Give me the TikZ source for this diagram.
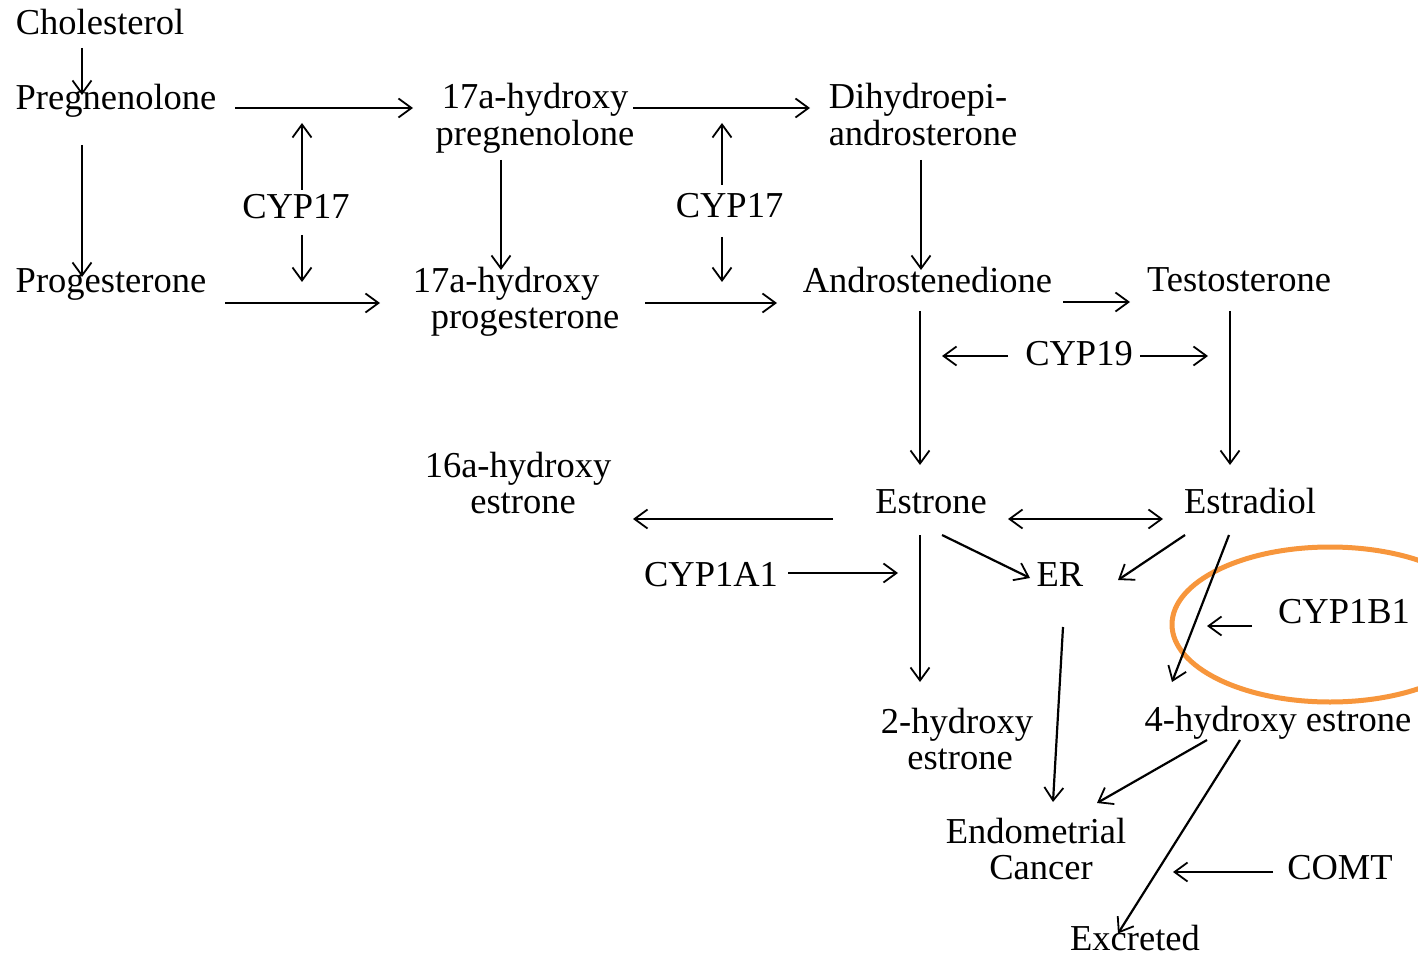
\documentclass[tikz,border=0pt]{standalone}
\usepackage{fontspec}
\setmainfont{Liberation Serif}
\usetikzlibrary{arrows.meta}
\definecolor{hl}{HTML}{F7963C}
\begin{document}
\begin{tikzpicture}[x=1pt,y=-1pt,
  lbl/.style={inner sep=0pt, align=center, font=\fontsize{36.5}{36}\selectfont},
  arr/.style={line width=2.2pt, -{Straight Barb[length=13pt,width=19pt,line width=1.8pt]}},
  arrs/.style={line width=2.2pt, {Straight Barb[length=13pt,width=19pt,line width=1.8pt]}-{Straight Barb[length=13pt,width=19pt,line width=1.8pt]}},
  ring/.style={draw=hl, line width=5pt}]
\useasboundingbox (0,0) rectangle (1418,957);
% nodes
\node[lbl] (chol) at (100,26.8) {\strut Cholesterol};
\node[lbl] (preg) at (116,101.8) {\strut Pregnenolone};
\node[lbl] (prog) at (111,285.8) {\strut Progesterone};
\node[lbl] (h17p) at (535,119.8) {\strut 17a-hydroxy\\\strut pregnenolone};
\node[lbl, align=left] (dhea) at (923,119.8) {\strut Dihydroepi-\\\strut androsterone};
\node[lbl] (h17g) at (516,302.8) {\strut 17a-hydroxy\hspace*{20pt}\\\strut\hspace*{18pt}progesterone};
\node[lbl] (andro) at (927.5,284.8) {\strut Androstenedione};
\node[lbl] (testo) at (1239,284.8) {\strut Testosterone};
\node[lbl] (cypa) at (296,211.8) {\strut CYP17};
\node[lbl] (cypb) at (729.5,210.8) {\strut CYP17};
\node[lbl] (cyp19) at (1079,358.8) {\strut CYP19};
\node[lbl] (h16) at (518,487.8) {\strut 16a-hydroxy\\\strut\hspace*{10pt}estrone};
\node[lbl] (estrone) at (931,505.8) {\strut Estrone};
\node[lbl] (estradiol) at (1250,505.8) {\strut Estradiol};
\node[lbl] (cyp1a1) at (711,578.8) {\strut CYP1A1};
\node[lbl] (er) at (1060,578.8) {\strut ER};
\node[lbl] (cyp1b1) at (1344,615.8) {\strut CYP1B1};
\node[lbl] (h2) at (957,743.8) {\strut 2-hydroxy\\\strut\hspace*{6pt}estrone};
\node[lbl] (h4) at (1278,723.8) {\strut 4-hydroxy estrone};
\node[lbl] (endo) at (1036,853.8) {\strut Endometrial\\\strut\hspace*{10pt}Cancer};
\node[lbl] (comt) at (1340,871.8) {\strut COMT};
\node[lbl, anchor=base] (excr) at (1135,950) {Excreted};
% highlight ring
\draw[ring] (1330,624.5) ellipse [x radius=158, y radius=77.5];
% connectors
\draw[arr] ([shift={(-18,21.2)}]chol.center) -- ([shift={(-34,-6.8)}]preg.center);
\draw[arr] ([shift={(119,6.2)}]preg.center) -- ([shift={(-122,-11.8)}]h17p.center);
\draw[arr] ([shift={(6,-21.8)}]cypa.center) -- ([shift={(6,-88.8)}]cypa.center);
\draw[arr] ([shift={(6,23.2)}]cypa.center) -- ([shift={(6,70.2)}]cypa.center);
\draw[arr] ([shift={(-34,43.2)}]preg.center) -- ([shift={(-29,-8.8)}]prog.center);
\draw[arr] ([shift={(114,17.2)}]prog.center) -- ([shift={(-136,0.2)}]h17g.center);
\draw[arr] ([shift={(-34,40.2)}]h17p.center) -- ([shift={(-15,-32.8)}]h17g.center);
\draw[arr] ([shift={(98,-11.8)}]h17p.center) -- ([shift={(-113,-11.8)}]dhea.center);
\draw[arr] ([shift={(-7.5,-25.8)}]cypb.center) -- ([shift={(-7.5,-87.8)}]cypb.center);
\draw[arr] ([shift={(-7.5,26.2)}]cypb.center) -- ([shift={(-7.5,71.2)}]cypb.center);
\draw[arr] ([shift={(129,0.2)}]h17g.center) -- ([shift={(-150.5,18.2)}]andro.center);
\draw[arr] ([shift={(-2,40.2)}]dhea.center) -- ([shift={(-6.5,-14.8)}]andro.center);
\draw[arr] ([shift={(135.5,17.2)}]andro.center) -- ([shift={(-109,17.2)}]testo.center);
\draw[arr] ([shift={(-71,-2.8)}]cyp19.center) -- ([shift={(-137,-2.8)}]cyp19.center);
\draw[arr] ([shift={(61,-2.8)}]cyp19.center) -- ([shift={(129,-2.8)}]cyp19.center);
\draw[arr] ([shift={(-7.5,26.2)}]andro.center) -- ([shift={(-11,-40.8)}]estrone.center);
\draw[arr] ([shift={(-9,26.2)}]testo.center) -- ([shift={(-20,-40.8)}]estradiol.center);
\draw[arr] ([shift={(-98,13.2)}]estrone.center) -- ([shift={(115,31.2)}]h16.center);
\draw[arrs] ([shift={(77,13.2)}]estrone.center) -- ([shift={(-87,13.2)}]estradiol.center);
\draw[arr] ([shift={(77,-5.8)}]cyp1a1.center) -- ([shift={(187,-5.8)}]cyp1a1.center);
\draw[arr] ([shift={(-11,29.2)}]estrone.center) -- ([shift={(-37,-61.8)}]h2.center);
\draw[arr] ([shift={(11,29.2)}]estrone.center) -- ([shift={(-30,-0.8)}]er.center);
\draw[arr] ([shift={(-65,29.2)}]estradiol.center) -- ([shift={(58,1.2)}]er.center);
\draw[arr] ([shift={(-21,29.2)}]estradiol.center) -- ([shift={(-106,-41.8)}]h4.center);
\draw[arr] ([shift={(-92,10.2)}]cyp1b1.center) -- ([shift={(-137,10.2)}]cyp1b1.center);
\draw[arr] ([shift={(3,48.2)}]er.center) -- ([shift={(17,-51.8)}]endo.center);
\draw[arr] ([shift={(-71,16.2)}]h4.center) -- ([shift={(61,-50.8)}]endo.center);
\draw[arr] ([shift={(-38,16.2)}]h4.center) -- ([shift={(-17,9)}]excr.north);
\draw[arr] ([shift={(-67,0.2)}]comt.center) -- ([shift={(-167,0.2)}]comt.center);
\end{tikzpicture}
\end{document}
